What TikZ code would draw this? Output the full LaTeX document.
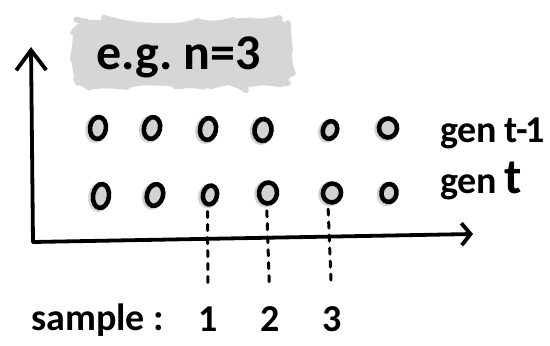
\documentclass[tikz,border=0pt]{standalone}
\usepackage{fontspec}
\setmainfont{Carlito}
\usetikzlibrary{arrows.meta,shapes.geometric,decorations.pathmorphing}
\definecolor{dotgray}{HTML}{D2D2D2}
\definecolor{cloudgray}{HTML}{D6D6D6}
\tikzset{
  ink/.style={line width=3.8pt, line cap=round, line join=round},
  seed/.style={ellipse, draw=black, line width=4.6pt, fill=dotgray,
    minimum width=16pt, minimum height=22pt, inner sep=0pt,
    preaction={draw=dotgray, line width=6pt, transform canvas={shift={(-1.8pt,-1pt)}}}},
  hand/.style={font=\fontsize{38}{38}\selectfont\bfseries, inner sep=0pt},
  dashline/.style={line width=3pt, dash pattern=on 6pt off 7pt, line cap=round}
}
\begin{document}
\begin{tikzpicture}[x=1pt, y=-1pt]
  \useasboundingbox (0,0) rectangle (550,346);

  % grey cloud behind the example label
  \path[fill=cloudgray, draw=cloudgray, line width=6pt, line join=round,
        decorate, decoration={random steps, segment length=11pt, amplitude=3.5pt}]
        (76,23) [rounded corners=14pt] rectangle (288,83);
  \node[hand, font=\fontsize{50}{50}\selectfont\bfseries, anchor=base west] (eg) at (96,69) {e.g.\ n=3};

  % axes
  \coordinate (origin) at (33,242);
  \coordinate (ytip) at (31,47);
  \coordinate (xtip) at (473,234);
  \draw[ink, -{Straight Barb[length=20pt, width=30pt, line width=3.8pt]}] (origin) -- (ytip);
  \draw[ink, -{Straight Barb[length=9pt, width=22pt, line width=3.8pt]}] (origin) -- (xtip);

  % generation t-1
  \node[seed, rotate=-8] (a1) at (98,128) {};
  \node[seed, rotate=-14] (a2) at (152,128) {};
  \node[seed, rotate=-10] (a3) at (208,129) {};
  \node[seed, rotate=-6, minimum width=17pt] (a4) at (263,130) {};
  \node[seed, rotate=-20, minimum width=14pt, minimum height=18pt] (a5) at (330,130) {};
  \node[seed, rotate=-4, minimum width=18pt, minimum height=19pt] (a6) at (388,128) {};

  % generation t
  \node[seed, rotate=-8, minimum height=24pt] (b1) at (101,196) {};
  \node[seed, rotate=-16, minimum height=22pt] (b2) at (155,195) {};
  \node[seed, rotate=-12, minimum width=14pt, minimum height=19pt] (b3) at (210,195) {};
  \node[seed, rotate=-6, minimum width=18pt, minimum height=21pt] (b4) at (268,193) {};
  \node[seed, rotate=-20, minimum width=18pt, minimum height=19pt] (b5) at (332,193) {};
  \node[seed, rotate=-10, minimum width=15pt, minimum height=18pt] (b6) at (389,193) {};

  % row labels
  \node[hand, anchor=base west] (gprev) at (440,142) {gen\kern-1pt\ t\kern-2pt-\kern-2pt1};
  \node[hand, anchor=base west] (gcur) at (440,193) {gen\kern-1pt\ \fontsize{50}{50}\selectfont t};

  % sample indices
  \node[hand, anchor=base west] (smp) at (31,330) {sample :};
  \node[hand, anchor=base] (s1) at (208,331) {1};
  \node[hand, anchor=base] (s2) at (270,331) {2};
  \node[hand, anchor=base] (s3) at (332,331) {3};

  \draw[dashline, shorten <=5pt, shorten >=21pt] (b3.south) -- (s1.north);
  \draw[dashline, shorten <=5pt, shorten >=21pt] (b4.south) -- (s2.north);
  \draw[dashline, shorten <=5pt, shorten >=21pt] (b5.south) -- (s3.north);
\end{tikzpicture}
\end{document}
